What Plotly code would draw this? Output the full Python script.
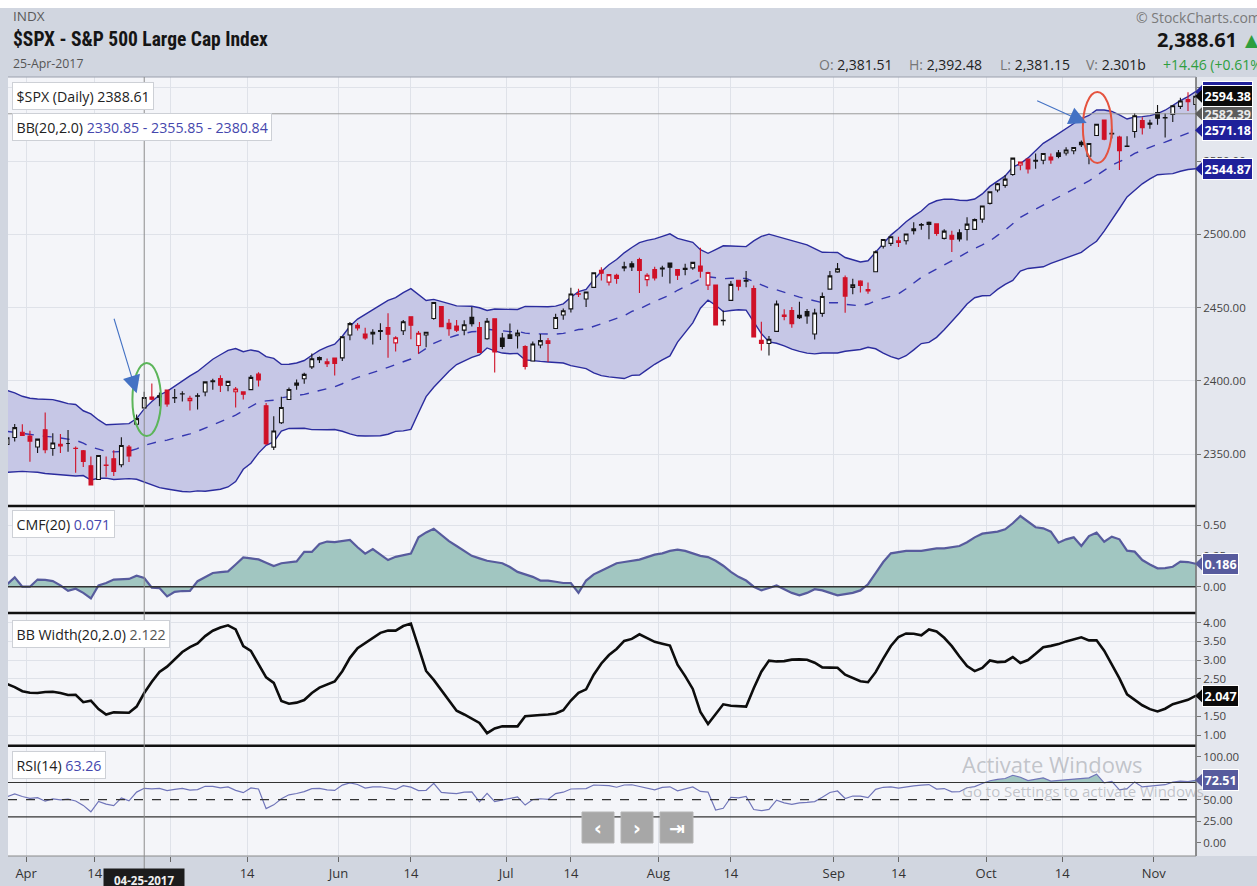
import numpy as np
import pandas as pd
import plotly.graph_objects as go
from plotly.subplots import make_subplots

# ---------------------------------------------------------------- data
# Closing prices that precede the displayed window (seed the indicators)
seed_close = [
    2111.72, 2097.94, 2088.66, 2085.18, 2131.52, 2139.56, 2163.26, 2167.48, 2164.45, 2164.20,
    2180.39, 2176.94, 2187.12, 2181.90, 2198.18, 2202.94, 2204.72, 2213.35, 2201.72, 2204.66,
    2198.81,
    2191.08, 2191.95, 2204.71, 2212.23, 2241.35, 2246.19, 2259.53, 2256.96, 2271.72, 2253.28,
    2262.03, 2258.07, 2262.53, 2270.76, 2265.18, 2260.96, 2263.79, 2268.88, 2249.92, 2249.26,
    2238.83,
    2257.83, 2270.75, 2269.00, 2276.98, 2268.90, 2268.90, 2275.32, 2270.44, 2274.64, 2267.89,
    2271.89, 2263.69, 2271.31, 2265.20, 2280.07, 2298.37, 2296.68, 2294.69, 2280.90, 2278.87,
    2279.55, 2280.85, 2297.42, 2292.56, 2293.08, 2294.67, 2307.87, 2316.10, 2328.25, 2337.58,
    2349.25, 2347.22, 2351.16, 2365.38, 2362.82, 2363.81, 2367.34, 2369.75, 2363.64,
    2395.96, 2381.92, 2383.12, 2375.31, 2368.39, 2362.98, 2364.87, 2372.60, 2373.47, 2365.45,
    2385.26, 2381.38, 2378.25, 2373.47, 2344.02, 2348.45, 2345.96, 2343.98, 2341.59, 2358.57,
]

market_holidays = ["2017-04-14", "2017-05-29", "2017-07-04", "2017-09-04"]

open_px = [
    2356.54, 2361.31, 2364.82, 2362.34, 2354.76, 2366.59, 2353.79, 2356.59, 2357.16, 2353.92,
    2352.15, 2341.98, 2332.62, 2342.53, 2346.79, 2342.69, 2354.74, 2370.33, 2381.51, 2388.98,
    2389.70, 2393.68, 2388.50, 2391.05, 2386.50, 2389.79, 2392.37, 2399.94, 2401.58, 2396.79,
    2392.52, 2392.44, 2393.98, 2404.55, 2382.95, 2354.69, 2371.37, 2387.21, 2397.04, 2401.41,
    2409.54, 2414.50, 2411.67, 2415.63, 2415.65, 2431.28, 2437.83, 2431.92, 2432.03, 2434.27,
    2436.39, 2425.88, 2434.15, 2443.75, 2424.14, 2431.24, 2442.55, 2450.66, 2439.31, 2437.40,
    2434.65, 2443.32, 2436.34, 2428.70, 2442.38, 2429.20, 2431.39, 2430.78, 2423.44, 2413.52,
    2424.51, 2427.35, 2435.75, 2444.99, 2449.16, 2459.50, 2455.88, 2463.85, 2475.56, 2467.40,
    2472.04, 2477.88, 2479.97, 2482.76, 2469.12, 2475.94, 2477.10, 2480.38, 2476.03, 2476.14,
    2477.14, 2478.35, 2465.35, 2465.38, 2441.04, 2454.96, 2468.66, 2468.63, 2462.95, 2427.64,
    2425.50, 2433.75, 2444.88, 2447.91, 2444.72, 2447.35, 2431.94, 2446.06, 2462.65, 2474.42,
    2470.35, 2463.83, 2468.06, 2462.25, 2474.52, 2491.94, 2493.89, 2494.56, 2495.67, 2502.51,
    2506.29, 2506.84, 2507.16, 2497.26, 2499.39, 2501.04, 2503.30, 2503.41, 2510.42, 2521.20,
    2530.34, 2533.48, 2540.86, 2547.44, 2551.39, 2549.99, 2550.62, 2552.88, 2555.66, 2555.57,
    2557.17, 2562.87, 2553.39, 2567.56, 2578.08, 2568.66, 2566.52, 2560.08, 2570.26, 2577.75,
    2575.99, 2583.21, 2579.46, 2581.93, 2587.47, 2592.11, 2588.71,
]
high_px = [
    2363.78, 2370.42, 2370.35, 2365.87, 2360.53, 2378.36, 2364.16, 2363.76, 2366.37, 2355.22,
    2352.72, 2348.26, 2349.14, 2348.35, 2352.63, 2361.37, 2356.18, 2376.98, 2392.48, 2398.16,
    2392.10, 2393.68, 2394.49, 2392.93, 2389.82, 2391.43, 2399.29, 2401.36, 2403.87, 2399.74,
    2395.72, 2392.44, 2404.05, 2405.77, 2384.87, 2375.74, 2389.06, 2395.46, 2400.85, 2405.58,
    2418.71, 2416.68, 2415.26, 2415.99, 2430.06, 2440.23, 2439.55, 2436.21, 2435.28, 2439.27,
    2446.20, 2430.38, 2441.49, 2443.75, 2433.95, 2433.15, 2453.82, 2450.66, 2442.23, 2441.62,
    2441.40, 2450.42, 2440.15, 2442.97, 2442.73, 2432.71, 2439.17, 2434.90, 2424.28, 2426.92,
    2432.00, 2429.30, 2445.76, 2449.32, 2463.54, 2462.82, 2460.92, 2473.83, 2477.62, 2472.54,
    2473.10, 2481.24, 2481.69, 2484.04, 2473.53, 2477.96, 2478.51, 2480.38, 2476.03, 2480.00,
    2480.95, 2490.87, 2474.41, 2465.38, 2448.09, 2468.22, 2468.90, 2474.93, 2465.02, 2440.27,
    2430.58, 2454.77, 2448.91, 2450.39, 2453.96, 2449.12, 2449.19, 2460.31, 2475.01, 2480.38,
    2471.97, 2469.64, 2468.62, 2467.11, 2488.95, 2496.77, 2498.37, 2498.43, 2500.23, 2508.32,
    2507.84, 2508.85, 2507.16, 2503.47, 2502.54, 2503.51, 2511.75, 2510.81, 2519.44, 2529.23,
    2535.13, 2540.53, 2552.51, 2549.41, 2551.82, 2555.23, 2555.24, 2555.33, 2557.65, 2559.47,
    2559.71, 2564.11, 2562.36, 2575.44, 2578.29, 2572.18, 2567.40, 2567.07, 2582.98, 2580.03,
    2578.29, 2588.40, 2582.81, 2588.42, 2593.38, 2597.02, 2595.47,
]
low_px = [
    2356.21, 2358.58, 2362.60, 2344.73, 2350.72, 2350.52, 2348.90, 2350.74, 2351.50, 2337.25,
    2341.18, 2328.95, 2332.51, 2334.54, 2335.05, 2340.91, 2344.51, 2369.19, 2381.15, 2386.78,
    2382.68, 2382.36, 2384.83, 2385.82, 2379.75, 2380.35, 2389.38, 2393.92, 2392.44, 2392.79,
    2381.74, 2387.19, 2393.94, 2396.05, 2356.21, 2352.72, 2370.43, 2386.92, 2393.88, 2397.99,
    2408.01, 2412.20, 2409.43, 2403.59, 2413.54, 2427.71, 2434.32, 2428.12, 2424.75, 2427.94,
    2415.70, 2419.97, 2431.28, 2428.34, 2418.53, 2422.88, 2441.79, 2436.60, 2430.74, 2433.27,
    2431.11, 2437.03, 2419.38, 2428.02, 2405.70, 2421.65, 2428.69, 2422.05, 2407.70, 2413.52,
    2422.27, 2412.79, 2435.75, 2441.69, 2446.69, 2457.16, 2450.34, 2463.85, 2468.43, 2465.06,
    2466.32, 2474.91, 2474.94, 2459.93, 2464.66, 2468.53, 2471.14, 2466.48, 2468.85, 2472.08,
    2475.88, 2470.32, 2462.08, 2437.75, 2437.85, 2454.96, 2461.61, 2463.86, 2430.01, 2420.69,
    2417.35, 2433.67, 2441.42, 2436.19, 2442.22, 2439.03, 2428.20, 2443.77, 2462.65, 2473.85,
    2446.55, 2459.20, 2460.29, 2459.40, 2474.52, 2490.37, 2492.14, 2491.35, 2493.16, 2499.92,
    2503.19, 2496.67, 2499.00, 2496.54, 2488.03, 2495.12, 2495.91, 2502.93, 2507.99, 2520.40,
    2528.85, 2531.80, 2540.02, 2543.79, 2541.60, 2544.86, 2547.95, 2548.31, 2552.09, 2553.83,
    2554.69, 2559.67, 2547.92, 2567.56, 2564.33, 2565.58, 2544.00, 2559.80, 2565.94, 2568.25,
    2572.15, 2574.92, 2566.17, 2576.77, 2585.66, 2584.35, 2585.02,
]
close_px = [
    2361.13, 2368.06, 2362.72, 2358.84, 2360.16, 2352.95, 2357.49, 2355.54, 2357.16, 2353.78,
    2344.93, 2328.95, 2349.01, 2342.19, 2338.17, 2355.84, 2348.69, 2374.15, 2388.61, 2387.45,
    2388.77, 2384.20, 2388.33, 2391.17, 2388.13, 2389.52, 2399.29, 2399.38, 2396.92, 2399.63,
    2394.44, 2390.90, 2402.32, 2400.67, 2357.03, 2365.72, 2381.73, 2394.02, 2398.42, 2404.39,
    2415.07, 2415.82, 2412.91, 2411.80, 2430.06, 2439.07, 2436.10, 2429.33, 2433.14, 2433.79,
    2431.77, 2429.39, 2440.35, 2437.92, 2432.46, 2433.15, 2453.46, 2437.03, 2435.61, 2434.50,
    2438.30, 2439.07, 2419.38, 2440.69, 2419.70, 2423.41, 2429.01, 2432.54, 2409.75, 2425.18,
    2427.43, 2425.53, 2443.25, 2447.83, 2459.27, 2459.14, 2460.61, 2473.83, 2473.45, 2472.54,
    2469.91, 2477.13, 2477.83, 2475.42, 2472.10, 2470.30, 2476.35, 2477.57, 2472.16, 2476.83,
    2480.91, 2474.92, 2474.02, 2438.21, 2441.32, 2465.84, 2464.61, 2468.11, 2430.01, 2425.55,
    2428.37, 2452.51, 2444.04, 2438.97, 2443.05, 2444.24, 2446.30, 2457.59, 2471.65, 2476.55,
    2457.85, 2465.54, 2465.10, 2461.43, 2488.11, 2496.48, 2498.37, 2495.62, 2500.23, 2503.87,
    2506.65, 2508.24, 2500.60, 2502.22, 2496.66, 2496.84, 2507.04, 2510.06, 2519.36, 2529.12,
    2534.58, 2537.74, 2552.07, 2549.33, 2544.73, 2550.64, 2555.24, 2550.93, 2553.17, 2557.64,
    2559.36, 2561.26, 2562.10, 2575.21, 2564.98, 2569.13, 2557.15, 2560.40, 2581.07, 2572.83,
    2575.26, 2579.36, 2579.85, 2587.84, 2591.13, 2590.64, 2594.38,
]

# Chaikin Money Flow (20)
cmf20 = [
    0.020, 0.076, 0.000, 0.000, 0.058, 0.055, 0.045, 0.011, -0.034, -0.016,
    -0.050, -0.095, 0.011, 0.030, 0.058, 0.060, 0.063, 0.089, 0.071, -0.008,
    -0.011, -0.079, -0.042, -0.035, -0.034, 0.045, 0.080, 0.111, 0.118, 0.124,
    0.180, 0.237, 0.230, 0.221, 0.195, 0.168, 0.190, 0.200, 0.205, 0.282,
    0.282, 0.347, 0.366, 0.361, 0.370, 0.379, 0.320, 0.268, 0.305, 0.260,
    0.216, 0.242, 0.255, 0.268, 0.400, 0.440, 0.470, 0.420, 0.370, 0.330,
    0.290, 0.250, 0.230, 0.210, 0.200, 0.190, 0.160, 0.120, 0.100, 0.080,
    0.050, 0.050, 0.040, 0.030, 0.030, -0.050, 0.050, 0.100, 0.130, 0.160,
    0.190, 0.200, 0.210, 0.220, 0.240, 0.260, 0.270, 0.290, 0.300, 0.290,
    0.270, 0.250, 0.240, 0.210, 0.170, 0.120, 0.080, 0.050, 0.000, -0.030,
    -0.010, 0.010, -0.020, -0.050, -0.070, -0.050, -0.020, -0.030, -0.050, -0.070,
    -0.060, -0.050, -0.030, 0.020, 0.110, 0.200, 0.270, 0.280, 0.290, 0.290,
    0.290, 0.300, 0.310, 0.310, 0.320, 0.330, 0.360, 0.400, 0.430, 0.440,
    0.446, 0.465, 0.514, 0.573, 0.527, 0.482, 0.473, 0.446, 0.357, 0.384,
    0.400, 0.330, 0.410, 0.438, 0.365, 0.406, 0.384, 0.292, 0.284, 0.216,
    0.180, 0.149, 0.150, 0.162, 0.203, 0.200, 0.186,
]

cursor_date = "2017-04-25"
cursor_level = 2582.39
cursor_volume = "2.301b"

# ---------------------------------------------------------------- indicators
dates = pd.bdate_range("2017-03-29", "2017-11-08")
dates = dates[~dates.isin(pd.to_datetime(market_holidays))]
n = len(dates)
xs = np.arange(n)

full_close = pd.Series(seed_close + close_px)
k0 = len(seed_close)
bb_mid = full_close.rolling(20).mean()
bb_sd = full_close.rolling(20).std(ddof=0)
bb_up = (bb_mid + 2 * bb_sd)
bb_lo = (bb_mid - 2 * bb_sd)
bb_width = (bb_up - bb_lo) / bb_mid * 100
bb_mid, bb_up, bb_lo, bb_width = [s.values[k0:] for s in (bb_mid, bb_up, bb_lo, bb_width)]

cvals = full_close.values
delta = np.diff(cvals)
gain = np.where(delta > 0, delta, 0.0)
loss = np.where(delta < 0, -delta, 0.0)
avg_g, avg_l = gain[:14].mean(), loss[:14].mean()
rsi_full = np.full(len(cvals), np.nan)
rsi_full[14] = 100 - 100 / (1 + avg_g / avg_l)
for j in range(14, len(delta)):
    avg_g = (avg_g * 13 + gain[j]) / 14
    avg_l = (avg_l * 13 + loss[j]) / 14
    rsi_full[j + 1] = 100 - 100 / (1 + avg_g / avg_l)
rsi14 = rsi_full[k0:]

prev_close = np.array([seed_close[-1]] + close_px[:-1])
closes = np.array(close_px)
up_day = closes >= prev_close

ci = int(np.where(dates == pd.Timestamp(cursor_date))[0][0])

# x-axis ticks: month starts and the 14th of each month
tick_vals, tick_text = [], []
for i in range(1, n):
    if dates[i].month != dates[i - 1].month:
        tick_vals.append(i - 0.5)
        tick_text.append(dates[i].strftime("%b"))
    if dates[i].day >= 14 and dates[i - 1].day < 14 and dates[i].month == dates[i - 1].month:
        tick_vals.append(i if dates[i].day == 14 else i - 0.5)
        tick_text.append("14")

# ---------------------------------------------------------------- layout helpers
W, H = 1257, 886
ML, MR, MT, MB = 8, 61, 77, 30
PW, PH = W - ML - MR, H - MT - MB


def fx(px):
    return (px - ML) / PW


def fy(py):
    return (H - MB - py) / PH


BG = "#d1d6e0"
PLOT_BG = "#f4f5f9"
GRID = "#dfe2e9"
NAVY = "#2b2c9e"
RED = "#cf1127"
INK = "#141414"
TEAL = "#a1c6c1"
SLATE = "#575b9d"
FONT = "Open Sans, Roboto, DejaVu Sans, sans-serif"
PRICE_RANGE = [2314.5, 2607.5]

fig = make_subplots(rows=4, cols=1, shared_xaxes=True, vertical_spacing=0,
                    row_heights=[429, 107, 132.7, 110.3])

# Bollinger band envelope
fig.add_trace(go.Scatter(x=xs, y=bb_lo, mode="lines", line=dict(color=NAVY, width=1.4),
                         hoverinfo="skip", showlegend=False), row=1, col=1)
fig.add_trace(go.Scatter(x=xs, y=bb_up, mode="lines", line=dict(color=NAVY, width=1.4),
                         fill="tonexty", fillcolor="#c6c7e6", hoverinfo="skip",
                         showlegend=False), row=1, col=1)
fig.add_trace(go.Scatter(x=xs, y=bb_mid, mode="lines",
                         line=dict(color="#3537b0", width=1.4, dash="dash"),
                         hoverinfo="skip", showlegend=False), row=1, col=1)


def candle_group(mask, color):
    idx = np.where(mask)[0]
    return go.Candlestick(
        x=xs[idx],
        open=[open_px[i] for i in idx], high=[high_px[i] for i in idx],
        low=[low_px[i] for i in idx], close=[close_px[i] for i in idx],
        increasing=dict(line=dict(color=color, width=1.1), fillcolor="#ffffff"),
        decreasing=dict(line=dict(color=color, width=1.1), fillcolor=color),
        whiskerwidth=0, hoverinfo="skip", showlegend=False,
        xaxis="x", yaxis="y5")


# candles sit on an overlaying price axis so they draw above the band fill
fig.add_trace(candle_group(up_day, INK))
fig.add_trace(candle_group(~up_day, RED))

# CMF
fig.add_trace(go.Scatter(x=xs, y=cmf20, mode="lines", line=dict(color=SLATE, width=2.2),
                         fill="tozeroy", fillcolor=TEAL, hoverinfo="skip",
                         showlegend=False), row=2, col=1)

# Bollinger BandWidth
fig.add_trace(go.Scatter(x=xs, y=bb_width, mode="lines", line=dict(color="#0d0d0d", width=2.6),
                         hoverinfo="skip", showlegend=False), row=3, col=1)

# RSI with overbought shading
fig.add_trace(go.Scatter(x=xs, y=np.full(n, 70.0), mode="lines", line=dict(width=0),
                         hoverinfo="skip", showlegend=False), row=4, col=1)
fig.add_trace(go.Scatter(x=xs, y=np.maximum(rsi14, 70.0), mode="lines", line=dict(width=0),
                         fill="tonexty", fillcolor=TEAL, hoverinfo="skip",
                         showlegend=False), row=4, col=1)
fig.add_trace(go.Scatter(x=xs, y=rsi14, mode="lines", line=dict(color="#7075b9", width=1.2),
                         hoverinfo="skip", showlegend=False), row=4, col=1)

# ---------------------------------------------------------------- axes
xr = [0.12, 156.05]
for r in range(1, 5):
    fig.update_xaxes(row=r, col=1, range=xr, tickvals=tick_vals, ticktext=tick_text,
                     showgrid=True, gridcolor=GRID, gridwidth=1, zeroline=False,
                     showline=False, rangeslider_visible=False, automargin=False)
fig.update_xaxes(row=4, col=1, showticklabels=True, ticks="outside", ticklen=5,
                 tickcolor="#666", tickfont=dict(family=FONT, size=13, color="#333"))

yax = dict(side="right", ticks="outside", ticklen=4, tickcolor="#777", showline=False,
           tickfont=dict(family=FONT, size=11.5, color="#444"), gridcolor=GRID,
           zeroline=False, automargin=False)
price_ticks = [2350, 2400, 2450, 2500, 2550, 2600]
fig.update_yaxes(row=1, col=1, range=PRICE_RANGE, tickvals=price_ticks,
                 ticktext=[f"{v:.2f}" for v in price_ticks], **yax)
cmf_ticks = [0.0, 0.25, 0.5]
fig.update_yaxes(row=2, col=1, range=[-0.213, 0.654], tickvals=cmf_ticks,
                 ticktext=[f"{v:.2f}" for v in cmf_ticks], **yax)
bbw_ticks = [1.0, 1.5, 2.0, 2.5, 3.0, 3.5, 4.0]
fig.update_yaxes(row=3, col=1, range=[0.714, 4.26], tickvals=bbw_ticks,
                 ticktext=[f"{v:.2f}" for v in bbw_ticks], **yax)
rsi_ticks = [0, 25, 50, 75, 100]
fig.update_yaxes(row=4, col=1, range=[-15.5, 112.8], tickvals=rsi_ticks,
                 ticktext=[f"{v:.2f}" for v in rsi_ticks], **yax)
fig.update_yaxes(row=4, col=1, showgrid=False)

shapes = []
# header strip and right-hand axis band
shapes.append(dict(type="rect", xref="paper", yref="paper", x0=fx(0), x1=fx(W),
                   y0=fy(8), y1=fy(-5), fillcolor="#ffffff", line=dict(width=0), layer="below"))
shapes.append(dict(type="rect", xref="paper", yref="paper", x0=1, x1=fx(W + 5),
                   y0=0, y1=1, fillcolor="#e4e7ee", line=dict(width=0), layer="below"))
# reference lines
shapes.append(dict(type="line", xref="paper", yref="y2", x0=0, x1=1, y0=0, y1=0,
                   line=dict(color="#333", width=1.4)))
for lvl, dash in [(70, "solid"), (30, "solid"), (50, "dash")]:
    shapes.append(dict(type="line", xref="paper", yref="y4", x0=0, x1=1, y0=lvl, y1=lvl,
                       line=dict(color="#333", width=1.2, dash=dash)))
# panel separators and frame
for py in [506, 613, 745.7]:
    shapes.append(dict(type="line", xref="paper", yref="paper", x0=0, x1=1,
                       y0=fy(py), y1=fy(py), line=dict(color="#111", width=2.6)))
shapes.append(dict(type="line", xref="paper", yref="paper", x0=1, x1=1, y0=0, y1=1,
                   line=dict(color="#6a6a6a", width=1.5)))
shapes.append(dict(type="line", xref="paper", yref="paper", x0=0, x1=1, y0=0, y1=0,
                   line=dict(color="#8a8a8a", width=1)))
shapes.append(dict(type="line", xref="paper", yref="paper", x0=0, x1=1, y0=1, y1=1,
                   line=dict(color="#9aa0ad", width=1)))
# crosshair
shapes.append(dict(type="line", xref="x", yref="paper", x0=ci, x1=ci, y0=fy(874), y1=1,
                   line=dict(color="#8c8c8c", width=1)))
shapes.append(dict(type="line", xref="paper", yref="y", x0=0, x1=1, y0=cursor_level,
                   y1=cursor_level, line=dict(color="#9a9a9a", width=1)))
# highlight ellipses
shapes.append(dict(type="circle", xref="x", yref="y", x0=16.45, x1=20.2, y0=2362.3,
                   y1=2412.2, line=dict(color="#5cb55a", width=2)))
shapes.append(dict(type="circle", xref="x", yref="y", x0=141.2, x1=145.0, y0=2548.8,
                   y1=2597.3, line=dict(color="#e5533f", width=2)))

annotations = []


def tag(yref, value, text, bg, fg="#ffffff", half=5.5, border="#ffffff"):
    shapes.append(dict(type="path", xref="paper", yref=yref,
                       path=f"M {fx(1195)},{value} L {fx(1203.5)},{value + half} "
                            f"L {fx(1203.5)},{value - half} Z",
                       fillcolor=bg, line=dict(width=0)))
    annotations.append(dict(xref="paper", yref=yref, x=fx(1202), y=value, xanchor="left",
                            yanchor="middle", text=f"<b>{text}</b>", showarrow=False,
                            bgcolor=bg, bordercolor=border, borderwidth=1, borderpad=1.5,
                            font=dict(family=FONT, size=12.5, color=fg)))


tag("y", bb_up[-1], f"{bb_up[-1]:.2f}", "#1f209a", half=5.5)
tag("y", cursor_level, f"{cursor_level:.2f}", "#5c5c5c", fg="#e9e9e9", half=5.5)
tag("y", bb_mid[-1], f"{bb_mid[-1]:.2f}", "#1f209a", half=5.5)
tag("y", bb_lo[-1], f"{bb_lo[-1]:.2f}", "#1f209a", half=5.5)
tag("y", close_px[-1], f"{close_px[-1]:.2f}", "#0b0b0b", half=5.5)
tag("y2", cmf20[-1], f"{cmf20[-1]:.3f}", SLATE, half=0.065)
tag("y3", bb_width[-1], f"{bb_width[-1]:.3f}", "#0b0b0b", half=0.21)
tag("y4", rsi14[-1], f"{rsi14[-1]:.2f}", SLATE, half=9.0)


def legend_box(py, text):
    annotations.append(dict(xref="paper", yref="paper", x=fx(12), y=fy(py), xanchor="left",
                            yanchor="top", text=text, showarrow=False, bgcolor="#ffffff",
                            bordercolor="#cdd0d6", borderwidth=1, borderpad=3.5, align="left",
                            font=dict(family=FONT, size=14.2, color="#222")))


BLUE_TXT = "#4547ad"
legend_box(82, f"$SPX (Daily) {close_px[ci]:.2f}")
legend_box(113, f"BB(20,2.0) <span style='color:{BLUE_TXT}'>{bb_lo[ci]:.2f} - "
                f"{bb_mid[ci]:.2f} - {bb_up[ci]:.2f}</span>")
legend_box(510, f"CMF(20) <span style='color:{BLUE_TXT}'>{cmf20[ci]:.3f}</span>")
legend_box(620, f"BB Width(20,2.0) <span style='color:#555'>{bb_width[ci]:.3f}</span>")
legend_box(751, f"RSI(14) <span style='color:{BLUE_TXT}'>{rsi14[ci]:.2f}</span>")

# header
chg = close_px[ci] - close_px[ci - 1]
pct = chg / close_px[ci - 1] * 100
annotations += [
    dict(xref="paper", yref="paper", x=fx(11), y=fy(16), xanchor="left", yanchor="middle",
         text="INDX", showarrow=False, font=dict(family=FONT, size=13.5, color="#5a5a5a")),
    dict(xref="paper", yref="paper", x=fx(11), y=fy(40), xanchor="left", yanchor="middle",
         text="<b>$SPX - S&amp;P 500 Large Cap Index</b>", showarrow=False,
         font=dict(family="Liberation Sans Narrow, Roboto Condensed, Roboto", size=19.5,
                   color="#151515")),
    dict(xref="paper", yref="paper", x=fx(11), y=fy(63), xanchor="left", yanchor="middle",
         text=dates[ci].strftime("%d-%b-%Y"), showarrow=False,
         font=dict(family=FONT, size=12.3, color="#555")),
    dict(xref="paper", yref="paper", x=fx(1134), y=fy(17), xanchor="left", yanchor="middle",
         text="© StockCharts.com", showarrow=False,
         font=dict(family=FONT, size=14, color="#7a7a7a")),
    dict(xref="paper", yref="paper", x=fx(1239), y=fy(40), xanchor="right", yanchor="middle",
         text=f"<b>{close_px[ci]:,.2f}</b>", showarrow=False,
         font=dict(family=FONT, size=20, color="#151515")),
    dict(xref="paper", yref="paper", x=fx(1243), y=fy(40), xanchor="left", yanchor="middle",
         text="▲", showarrow=False, font=dict(family="DejaVu Sans", size=17, color="#2e9e3e")),
]
quote_parts = [
    (817, f"<span style='color:#777'>O:</span> {open_px[ci]:,.2f}"),
    (907, f"<span style='color:#777'>H:</span> {high_px[ci]:,.2f}"),
    (998, f"<span style='color:#777'>L:</span> {low_px[ci]:,.2f}"),
    (1084, f"<span style='color:#777'>V:</span> {cursor_volume}"),
    (1161, f"<span style='color:#2e9e3e'>{chg:+.2f} ({pct:+.2f}%)</span>"),
]
for px, txt in quote_parts:
    annotations.append(dict(xref="paper", yref="paper", x=fx(px), y=fy(64), xanchor="left",
                            yanchor="middle", text=txt, showarrow=False,
                            font=dict(family=FONT, size=14, color="#222")))

# pointer arrows
for hx, hy, ax, ay in [(17.0, 2391.5, -23, -76), (141.7, 2576.0, -51, -23)]:
    annotations.append(dict(xref="x", yref="y", x=hx, y=hy, ax=ax, ay=ay, axref="pixel",
                            ayref="pixel", showarrow=True, arrowhead=2, arrowsize=3.2,
                            arrowwidth=1.1, arrowcolor="#4472c4", text=""))

# crosshair date box
annotations.append(dict(xref="x", yref="paper", x=ci, y=fy(880), xanchor="center",
                        yanchor="middle",
                        text=f"&nbsp;&nbsp;<b>{dates[ci].strftime('%m-%d-%Y')}</b>&nbsp;&nbsp;",
                        showarrow=False, bgcolor="#1c1c1c", borderpad=4,
                        font=dict(family=FONT, size=11.5, color="#f0f0f0")))

# navigation buttons
for (x0, x1), glyph in zip([(582, 614), (621, 653), (660, 693)], ["‹", "›", "⇥"]):
    shapes.append(dict(type="rect", xref="paper", yref="paper", x0=fx(x0), x1=fx(x1),
                       y0=fy(843), y1=fy(812), fillcolor="#a7a7a7",
                       line=dict(color="#b5b5b5", width=1)))
    annotations.append(dict(xref="paper", yref="paper", x=fx((x0 + x1) / 2), y=fy(828),
                            xanchor="center", yanchor="middle", text=f"<b>{glyph}</b>",
                            showarrow=False,
                            font=dict(family="DejaVu Sans", size=19, color="#ffffff")))

# system watermark
annotations.append(dict(xref="paper", yref="paper", x=fx(960), y=fy(764), xanchor="left",
                        yanchor="middle", text="Activate Windows", showarrow=False,
                        font=dict(family=FONT, size=22, color="rgba(150,154,162,0.55)")))
annotations.append(dict(xref="paper", yref="paper", x=fx(960), y=fy(791), xanchor="left",
                        yanchor="middle", text="Go to Settings to activate Windows.",
                        showarrow=False,
                        font=dict(family=FONT, size=15, color="rgba(150,154,162,0.55)")))

fig.update_layout(
    width=W, height=H, margin=dict(l=ML, r=MR, t=MT, b=MB, autoexpand=False),
    paper_bgcolor=BG, plot_bgcolor=PLOT_BG, showlegend=False,
    boxgap=0.3, shapes=shapes, annotations=annotations,
    font=dict(family=FONT),
    yaxis5=dict(overlaying="y", anchor="x", side="right", range=PRICE_RANGE,
                showgrid=False, showticklabels=False, ticks="", zeroline=False,
                automargin=False),
)

fig.write_html("out.html")
